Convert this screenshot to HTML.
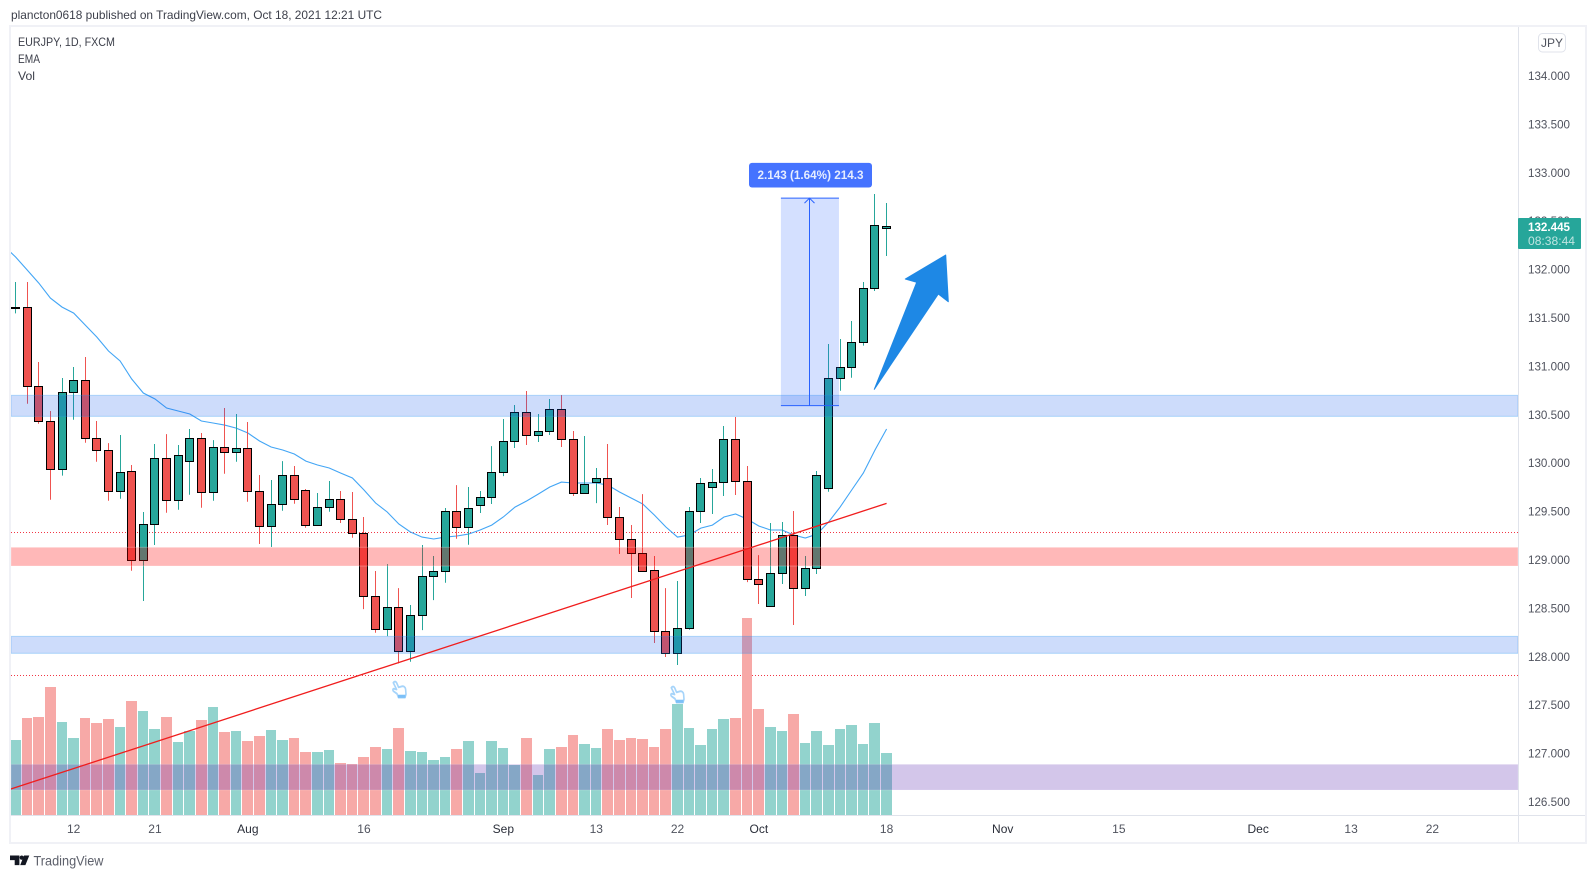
<!DOCTYPE html>
<html lang="en">
<head>
<meta charset="utf-8">
<title>EURJPY 1D chart</title>
<style>
html,body{margin:0;padding:0;background:#fff;width:1596px;height:878px;overflow:hidden}
svg{display:block;font-family:"Liberation Sans",Arial,sans-serif}
</style>
</head>
<body>
<svg id="chart" xmlns="http://www.w3.org/2000/svg" width="1596" height="878" viewBox="0 0 1596 878">
  <defs>
    <clipPath id="plot-clip"><rect x="11" y="27" width="1507.5" height="788"/></clipPath>
  </defs>
  <rect x="0" y="0" width="1596" height="878" fill="#ffffff"/>
  <text x="11" y="19" font-size="12" fill="#3c3f4a" textLength="371" lengthAdjust="spacingAndGlyphs">plancton0618 published on TradingView.com, Oct 18, 2021 12:21 UTC</text>
  <rect x="10" y="26" width="1576" height="817" fill="none" stroke="#f0f1f6" stroke-width="2"/>
  <g id="plot" clip-path="url(#plot-clip)"></g>
  <line x1="1518.5" y1="27" x2="1518.5" y2="842" stroke="#e0e3eb"/>
  <line x1="11" y1="815.5" x2="1585" y2="815.5" stroke="#e0e3eb"/>
  <g id="price-axis"></g>
  <g id="time-axis"></g>
  <g id="price-tag"></g>
  <g>
    <rect x="1538.5" y="33.5" width="27" height="18.5" rx="4" fill="#fff" stroke="#e0e3eb"/>
    <text x="1552" y="47" font-size="12" text-anchor="middle" fill="#50535e">JPY</text>
  </g>
  <text x="18" y="46" font-size="12" fill="#3c3f4a" textLength="97" lengthAdjust="spacingAndGlyphs">EURJPY, 1D, FXCM</text>
  <text x="18" y="63" font-size="12" fill="#3c3f4a" textLength="22" lengthAdjust="spacingAndGlyphs">EMA</text>
  <text x="18" y="80" font-size="12" fill="#3c3f4a" textLength="17" lengthAdjust="spacingAndGlyphs">Vol</text>
  <g>
    <path fill="#131722" d="M10 855.5h9.4v9.6h-4.7v-5h-4.7z M24 855.5h5.3l-3.9 9.6h-5.2z"/>
    <circle cx="21.7" cy="857.6" r="2.1" fill="#131722"/>
    <text x="33.5" y="865.5" font-size="14" fill="#5d606b" textLength="70" lengthAdjust="spacingAndGlyphs">TradingView</text>
  </g>
</svg>
<script>
// ---- chart data ----
const candleOpen = [131.600,131.610,130.794,130.433,129.937,130.732,130.856,130.257,130.133,129.709,129.916,128.997,129.368,130.050,129.616,130.019,130.257,129.699,130.164,130.112,130.154,129.709,129.348,129.575,129.875,129.720,129.358,129.544,129.627,129.420,129.275,128.625,128.284,128.511,128.056,128.428,128.831,128.883,129.503,129.337,129.565,129.647,129.906,130.226,130.526,130.288,130.329,130.557,130.247,129.689,129.802,129.844,129.441,129.213,129.069,128.893,128.263,128.036,128.294,129.503,129.751,129.802,130.247,129.813,128.800,128.521,128.862,129.255,128.707,128.914,129.736,130.877,130.990,131.249,131.807,132.426];
const candleHigh = [131.872,131.872,131.045,130.539,130.880,130.994,131.097,130.436,130.208,130.291,129.981,129.496,130.198,130.301,130.188,130.353,130.312,130.239,130.570,130.508,130.425,129.878,129.826,130.022,129.971,129.733,129.692,129.816,129.713,129.702,129.444,128.886,128.958,128.710,128.535,129.155,129.041,129.537,129.774,129.754,129.713,130.177,130.456,130.601,130.746,130.508,130.663,130.704,130.332,130.281,129.950,130.198,129.547,129.361,129.681,129.041,128.710,128.783,129.547,129.847,129.940,130.384,130.477,129.971,129.051,129.382,129.392,129.506,129.041,129.919,131.231,131.283,131.469,131.872,132.781,132.688];
const candleLow = [131.548,130.614,130.408,129.623,129.871,130.449,130.211,130.015,129.612,129.633,128.889,128.576,129.155,129.488,129.519,129.674,129.540,129.612,129.891,130.015,129.602,129.165,129.134,129.509,129.581,129.333,129.358,129.499,129.382,129.230,128.493,128.249,128.214,127.932,127.949,128.276,128.586,128.765,129.220,129.158,129.485,129.578,129.867,130.157,130.188,130.219,130.291,130.167,129.661,129.689,129.588,129.361,129.062,128.607,128.883,128.142,127.998,127.915,128.280,129.382,129.475,129.661,129.671,128.772,128.545,128.521,128.752,128.328,128.628,128.855,129.705,130.749,130.883,131.214,131.779,132.140];
const candleClose = [131.606,130.794,130.433,129.937,130.732,130.856,130.257,130.133,129.709,129.906,128.997,129.368,130.050,129.616,130.081,130.257,129.699,130.164,130.112,130.154,129.709,129.348,129.575,129.875,129.627,129.358,129.544,129.627,129.420,129.275,128.625,128.284,128.511,128.056,128.428,128.831,128.883,129.503,129.337,129.534,129.647,129.906,130.226,130.526,130.288,130.329,130.557,130.247,129.689,129.782,129.844,129.441,129.213,129.069,128.883,128.263,128.036,128.294,129.503,129.792,129.802,130.247,129.813,128.800,128.749,128.862,129.255,128.707,128.914,129.875,130.877,130.990,131.249,131.807,132.457,132.445];
const volumes = [225,291,294,384,279,231,291,276,288,264,342,312,258,294,219,252,285,324,249,252,222,237,255,225,231,189,189,195,156,153,174,204,198,261,192,189,165,174,198,222,126,222,201,150,231,120,198,204,240,213,201,258,225,231,228,204,258,333,261,210,258,288,291,591,318,264,252,303,216,252,210,258,270,213,276,186];
// EMA starts one bar before the first visible candle
const emaValues = [132.244,132.130,131.996,131.861,131.706,131.613,131.551,131.427,131.303,131.159,131.056,130.870,130.725,130.663,130.570,130.539,130.508,130.436,130.415,130.394,130.363,130.312,130.229,130.167,130.136,130.095,130.022,129.981,129.950,129.898,129.847,129.723,129.589,129.496,129.372,129.289,129.237,129.217,129.237,129.248,129.268,129.310,129.361,129.444,129.547,129.609,129.681,129.754,129.805,129.795,129.795,129.795,129.774,129.702,129.640,129.578,129.465,129.341,129.237,129.258,129.330,129.361,129.444,129.475,129.423,129.351,129.310,129.310,129.258,129.227,129.268,129.392,129.547,129.723,129.898,130.136,130.353];
const priceTickLabels = ["126.500","127.000","127.500","128.000","128.500","129.000","129.500","130.000","130.500","131.000","131.500","132.000","132.500","133.000","133.500","134.000"];
const timeTickBars = [5,12,20,30,42,50,57,64,75,85,95,107,115,122];
const timeTickLabels = ["12","21","Aug","16","Sep","13","22","Oct","18","Nov","15","Dec","13","22"];
const blueBandUpper = [130.701,130.484];
const blueBandLower = [128.211,128.036];
const redBand = [129.131,128.938];
const purpleBand = [126.889,126.624];
const dottedLevels = [129.286,127.806];
const trendPrices = [126.631,129.585];
const measureRange = [132.738,130.595];
const measureBars = [65.9,70.9];
const measureLabel = "2.143 (1.64%) 214.3";
const timerLabel = "08:38:44";

// ---- axis functions ----
const NS = "http://www.w3.org/2000/svg";
function yScale(p){ return 76 + (134 - p) * 96.8; }
function xScale(i){ return 15.6 + 11.613 * i; }
function col(i){ return Math.floor(xScale(i)); }
const volMax = Math.max.apply(null, volumes);
function volHeight(v){ return v / volMax * 197; }
const VOL_BASE = 815;

function add(parent, tag, attrs){
  const el = document.createElementNS(NS, tag);
  for (const k in attrs) el.setAttribute(k, attrs[k]);
  parent.appendChild(el);
  return el;
}
const plot = document.getElementById("plot");
const priceAxis = document.getElementById("price-axis");
const timeAxis = document.getElementById("time-axis");
const priceTag = document.getElementById("price-tag");

// dotted level lines
dottedLevels.forEach(function(level){
  const y = Math.floor(yScale(level)) + 0.5;
  const el = add(plot, "line", {x1:11, x2:1518, y1:y, y2:y, stroke:"#f23645", "stroke-width":1, "stroke-dasharray":"1 2"});
  
  
});

// volume bars
volumes.forEach(function(v, i){
  const up = candleClose[i] >= candleOpen[i];
  const left = col(i) - 5;
  const w = col(i + 1) - col(i) - 1;
  const h = volHeight(v);
  const el = add(plot, "rect", {x:left, y:VOL_BASE - h, width:w, height:h, fill: up ? "#92d3cd" : "#f7a9a7", "shape-rendering":"crispEdges"});
  
  
});

// EMA line
const emaPoints = emaValues.map(function(p, i){ return xScale(i - 1).toFixed(1) + "," + yScale(p).toFixed(1); }).join(" ");
const emaLine = add(plot, "polyline", {points:emaPoints, fill:"none", stroke:"#42a5f5", "stroke-width":1.1});



// candles
candleOpen.forEach(function(o, i){
  const c = candleClose[i], up = c >= o;
  const color = up ? "#26a69a" : "#ef5350";
  const cx = col(i) + 0.5;
  const wick = add(plot, "line", {x1:cx, x2:cx, y1:yScale(candleHigh[i]), y2:yScale(candleLow[i]), stroke:color, "stroke-width":1});
  
  
  const top = Math.floor(yScale(Math.max(o, c))) + 0.5;
  const bottom = Math.max(top + 1, Math.floor(yScale(Math.min(o, c))) + 0.5);
  const body = add(plot, "rect", {x:cx - 4, y:top, width:8, height:bottom - top, fill:color, stroke:"#000", "stroke-width":1});
  
  
});

// horizontal zones drawn above the candles
function band(range, fill, edge, name){
  const y0 = yScale(range[0]), y1 = yScale(range[1]);
  const el = add(plot, "rect", {x:11, y:y0, width:1507, height:y1 - y0, fill:fill, stroke:edge, "stroke-width":1});
  
  
}
band(blueBandUpper, "rgba(20,90,235,0.21)", "rgba(33,150,243,0.3)", 'resistance-zone');
band(blueBandLower, "rgba(20,90,235,0.21)", "rgba(33,150,243,0.3)", 'support-zone');
band(redBand, "rgba(255,0,0,0.28)", "rgba(255,255,255,0.25)", 'pivot-zone');
band(purpleBand, "rgba(103,58,183,0.29)", "rgba(255,255,255,0.15)", 'purple-zone');

// trend line
const trend = add(plot, "line", {x1:10, y1:yScale(trendPrices[0]), x2:xScale(75), y2:yScale(trendPrices[1]), stroke:"#f01d1d", "stroke-width":1.3});



// measure tool
const mx0 = xScale(measureBars[0]), mx1 = xScale(measureBars[1]);
const myTop = yScale(measureRange[0]), myBot = yScale(measureRange[1]);
const mRect = add(plot, "rect", {x:mx0, y:myTop, width:mx1 - mx0, height:myBot - myTop, fill:"rgba(41,98,255,0.2)"});


const mTop = add(plot, "line", {x1:mx0, x2:mx1, y1:myTop, y2:myTop, stroke:"#2962ff", "stroke-width":1});


const mBot = add(plot, "line", {x1:mx0, x2:mx1, y1:myBot, y2:myBot, stroke:"#2962ff", "stroke-width":1});


const mMid = Math.floor((mx0 + mx1) / 2) + 0.5;
const mVert = add(plot, "line", {x1:mMid, x2:mMid, y1:myTop, y2:myBot, stroke:"#2962ff", "stroke-width":1});


const mHead = add(plot, "polyline", {points:(mMid - 5) + "," + (myTop + 5) + " " + mMid + "," + myTop + " " + (mMid + 5) + "," + (myTop + 5), fill:"none", stroke:"#2962ff", "stroke-width":1});


const mLabelBox = add(plot, "rect", {x:749, y:myTop - 35.3, width:123, height:24.7, rx:3, fill:"#4573ff"});


const mLabel = add(plot, "text", {x:810.5, y:myTop - 19, "text-anchor":"middle", "font-size":12, "font-weight":"bold", fill:"#e6edff", textLength:106, lengthAdjust:"spacingAndGlyphs"});
mLabel.textContent = measureLabel;



// annotation arrow
const bigArrow = add(plot, "polygon", {points:"945.7,255 905.3,279 916.7,282.3 874.3,389.3 938.3,294 948.3,301.7", fill:"#1e88e5", stroke:"#1e88e5", "stroke-width":1, "stroke-linejoin":"round"});



// hand annotations
[[393, 682, 'hand-icon-august'], [671, 687, 'hand-icon-september']].forEach(function(h){
  const g = add(plot, "g", {transform:"translate(" + h[0] + "," + h[1] + ") scale(1,1.2)"});
  
  
  const outline = add(g, "path", {d:"M0.3,0.6 C1.5,-0.9 3,-0.5 3.7,0.8 L5.6,4.4 L9,3.6 C11,3.3 12.3,4.3 12.6,6 L13,10.2 L12,13 L5.5,13 L4,9.8 L0.6,7.8 C-0.5,7 -0.3,5.8 0.8,5.6 L3.6,6.2 L0.3,0.6 Z", fill:"#ffffff", stroke:"#a6d4fa", "stroke-width":1.6, "stroke-linejoin":"round"});
  
  
  const cuff = add(g, "rect", {x:5, y:10.6, width:7.5, height:2.6, fill:"#7cc0f8"});
  
  
});

// price axis ticks
priceTickLabels.forEach(function(label){
  const t = add(priceAxis, "text", {x:1528, y:yScale(parseFloat(label)) + 4, "font-size":12, fill:"#50535e", textLength:42, lengthAdjust:"spacingAndGlyphs"});
  t.textContent = label;
  
  
});

// time axis ticks
timeTickLabels.forEach(function(label, i){
  const t = add(timeAxis, "text", {x:xScale(timeTickBars[i]), y:833, "font-size":12, "text-anchor":"middle", fill: /[A-Za-z]/.test(label) ? "#2a2e39" : "#50535e"});
  t.textContent = label;
  
  
});

// last price tag
const lastClose = candleClose[candleClose.length - 1];
const tagY = yScale(lastClose) - 8.5;
const tagBox = add(priceTag, "rect", {x:1518, y:tagY, width:63, height:31, rx:1, fill:"#26a69a"});


const tagPrice = add(priceTag, "text", {x:1528, y:tagY + 13, "font-size":12, "font-weight":"bold", fill:"#ffffff", textLength:42, lengthAdjust:"spacingAndGlyphs"});
tagPrice.textContent = lastClose.toFixed(3);


const tagTimer = add(priceTag, "text", {x:1528, y:tagY + 27, "font-size":12, fill:"#bfe5e1", textLength:47, lengthAdjust:"spacingAndGlyphs"});
tagTimer.textContent = timerLabel;


</script>
</body>
</html>
